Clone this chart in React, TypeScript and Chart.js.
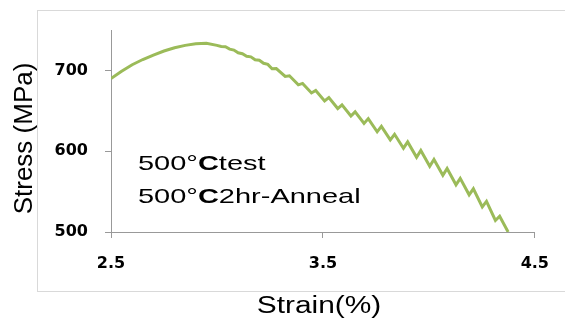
import React, { useEffect, useRef } from "react";
import { Chart, registerables } from "chart.js";

Chart.register(...registerables);

const strain: number[] = [
  2.5, 2.55, 2.6, 2.65, 2.7, 2.75, 2.8, 2.85, 2.9, 2.95,
  3.0, 3.02, 3.04, 3.06, 3.08, 3.1, 3.12, 3.14, 3.16, 3.18, 3.2, 3.22, 3.24,
  3.26, 3.28, 3.322, 3.342, 3.384, 3.404, 3.446, 3.466, 3.508, 3.528,
  3.57, 3.59, 3.632, 3.652, 3.694, 3.714, 3.756, 3.776, 3.818, 3.838,
  3.88, 3.9, 3.942, 3.962, 4.004, 4.024, 4.066, 4.086, 4.128, 4.148,
  4.19, 4.21, 4.252, 4.272, 4.314, 4.334, 4.374,
];
const stress: number[] = [
  690, 699, 707, 713.5, 719, 724, 728, 731, 733, 733.5,
  731, 729.5, 729.2, 726.3, 725.2, 721.8, 720.6, 717.4, 716.8, 713.2, 712.6, 708.8, 707.4,
  702.1, 702.3, 692.5, 693.3, 682.1, 683.9, 672.1, 675.1, 662.3, 666.3,
  652.8, 657.3, 643.5, 648.7, 634.3, 640.3, 624, 630.8, 614.1, 620.9,
  603.7, 611.5, 592.4, 600.8, 581.3, 589.7, 570.1, 578.5, 558.4, 566.4,
  546, 553.5, 531, 538, 514.3, 519.5, 500,
];
const xTicks: number[] = [2.5, 3.5, 4.5];
const yTicks: number[] = [500, 600, 700];
const xTitle = "Strain(%)";
const yTitle = "Stress (MPa)";
const noteLines: string[][] = [
  ["500°", "C", "test"],
  ["500°", "C", "2hr-Anneal"],
];

const textPlugin = {
  id: "texts",
  beforeDraw(chart: any) {
    const ctx = chart.ctx as CanvasRenderingContext2D;
    ctx.save();
    ctx.strokeStyle = "#d9d9d9";
    ctx.lineWidth = 1;
    ctx.strokeRect(37.5, 10.5, 700, 281);
    ctx.restore();
  },
  afterDraw(chart: any) {
    const ctx = chart.ctx as CanvasRenderingContext2D;
    const ff = '"Liberation Sans", Arial, sans-serif';
    // x title
    ctx.save();
    ctx.fillStyle = "#000";
    ctx.textBaseline = "alphabetic";
    ctx.textAlign = "center";
    ctx.font = `23px ${ff}`;
    ctx.translate(319, 313);
    ctx.scale(1.3, 1);
    ctx.fillText(xTitle, 0, 0);
    ctx.restore();
    // y title
    ctx.save();
    ctx.fillStyle = "#000";
    ctx.textBaseline = "alphabetic";
    ctx.textAlign = "center";
    ctx.font = `26px ${ff}`;
    ctx.translate(32, 138.5);
    ctx.rotate(-Math.PI / 2);
    ctx.fillText(yTitle, 0, 0);
    ctx.restore();
    // notes
    const baselines = [170, 203];
    noteLines.forEach((parts, i) => {
      ctx.save();
      ctx.fillStyle = "#000";
      ctx.textBaseline = "alphabetic";
      ctx.textAlign = "left";
      ctx.translate(138, baselines[i]);
      ctx.scale(1.38, 1);
      let x = 0;
      parts.forEach((p, j) => {
        ctx.font = `${j === 1 ? "bold " : ""}21px ${ff}`;
        ctx.fillText(p, x, 0);
        x += ctx.measureText(p).width;
      });
      ctx.restore();
    });
  },
};

export default function App() {
  const ref = useRef<HTMLCanvasElement | null>(null);
  useEffect(() => {
    if (!ref.current) return;
    const chart = new Chart(ref.current, {
      type: "line",
      data: {
        datasets: [
          {
            data: strain.map((s, i) => ({ x: s, y: stress[i] })),
            borderColor: "#9BBB59",
            borderWidth: 3,
            pointRadius: 0,
            tension: 0,
            fill: false,
          },
        ],
      },
      options: {
        animation: false,
        responsive: false,
        layout: { padding: { top: 30, right: 26, left: 0, bottom: 0 } },
        plugins: { legend: { display: false }, tooltip: { enabled: false } },
        scales: {
          x: {
            type: "linear",
            min: 2.5,
            max: 4.5,
            afterBuildTicks: (s: any) => {
              s.ticks = xTicks.map((v) => ({ value: v }));
            },
            afterFit: (s: any) => {
              s.height = 90;
            },
            grid: { drawOnChartArea: false, drawTicks: true, tickLength: 6, color: "#999" },
            border: { color: "#999", width: 1 },
            ticks: {
              padding: 16,
              color: "#000",
              font: { family: '"DejaVu Sans"', weight: "bold", size: 16 },
              maxRotation: 0,
              callback: (v: any) => Number(v).toFixed(1),
            },
          },
          y: {
            type: "linear",
            min: 500,
            max: 750,
            afterBuildTicks: (s: any) => {
              s.ticks = yTicks.map((v) => ({ value: v }));
            },
            afterFit: (s: any) => {
              s.width = 111;
            },
            grid: { drawOnChartArea: false, drawTicks: true, tickLength: 6, color: "#999" },
            border: { color: "#999", width: 1 },
            ticks: {
              padding: 17,
              color: "#000",
              font: { family: '"DejaVu Sans"', weight: "bold", size: 16 },
              callback: (v: any) => String(v),
            },
          },
        },
      },
      plugins: [textPlugin],
    });
    return () => chart.destroy();
  }, []);
  return (
    <div style={{ position: "fixed", left: 0, top: 0, width: 565, height: 322, background: "#fff" }}>
      <canvas ref={ref} width={565} height={322} style={{ width: 565, height: 322, display: "block" }} />
    </div>
  );
}
